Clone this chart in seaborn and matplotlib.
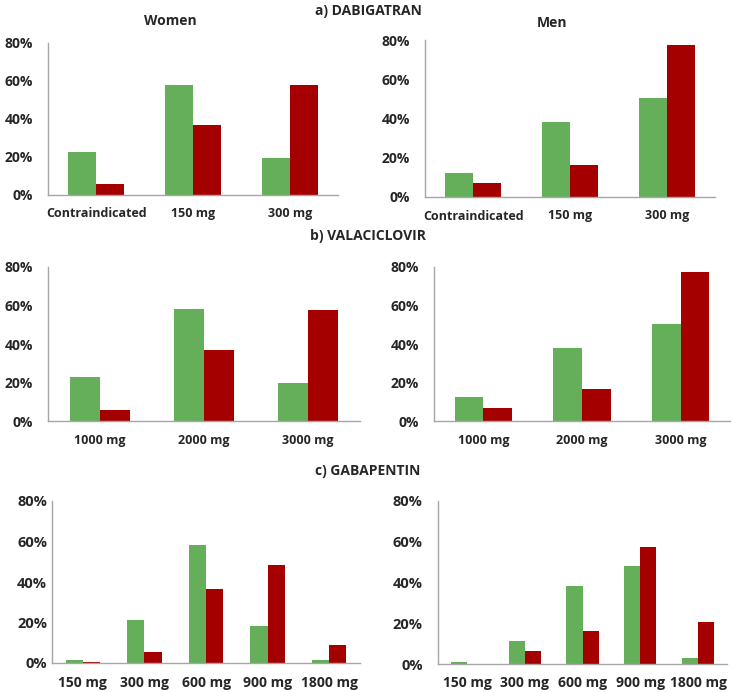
import seaborn as sns
import matplotlib.pyplot as plt
import pandas as pd
from matplotlib.ticker import FuncFormatter

# values (percent)
dabi_doses = ['Contraindicated', '150 mg', '300 mg']
dabi_women_green = [22.6, 58.0, 19.5]
dabi_women_red = [5.8, 36.7, 57.8]
dabi_men_green = [12.4, 38.0, 50.5]
dabi_men_red = [7.0, 16.5, 77.2]

vala_doses = ['1000 mg', '2000 mg', '3000 mg']
vala_women_green = [22.6, 58.0, 19.5]
vala_women_red = [5.8, 36.7, 57.6]
vala_men_green = [12.3, 38.0, 50.4]
vala_men_red = [7.0, 16.5, 77.3]

gaba_doses = ['150 mg', '300 mg', '600 mg', '900 mg', '1800 mg']
gaba_women_green = [1.3, 21.3, 58.1, 18.2, 1.3]
gaba_women_red = [0.3, 5.6, 36.7, 48.3, 9.0]
gaba_men_green = [0.8, 11.1, 38.1, 47.9, 2.8]
gaba_men_red = [0.0, 6.4, 16.3, 57.2, 20.4]

GREEN = '#65ae5a'
RED = '#a50000'
FONT = 'Open Sans'


def long_df(doses, green, red):
    rows = []
    for d, g, r in zip(doses, green, red):
        rows.append({'dose': d, 'series': 'A', 'value': g / 100})
        rows.append({'dose': d, 'series': 'B', 'value': r / 100})
    return pd.DataFrame(rows)


def draw(ax, doses, green, red, width, xsize=9, ysize=10, ypad=11):
    df = long_df(doses, green, red)
    sns.barplot(data=df, x='dose', y='value', hue='series', order=doses,
                palette=[GREEN, RED], width=width, gap=0, ax=ax,
                legend=False, saturation=1, errorbar=None, linewidth=0)
    ax.set_ylim(0, 0.8)
    ax.set_xlim(-0.5, len(doses) - 0.5)
    ax.set_yticks([0, 0.2, 0.4, 0.6, 0.8])
    ax.yaxis.set_major_formatter(FuncFormatter(lambda v, p: f'{v*100:.0f}%'))
    ax.set_xlabel('')
    ax.set_ylabel('')
    for s in ['top', 'right']:
        ax.spines[s].set_visible(False)
    for s in ['left', 'bottom']:
        ax.spines[s].set_color('#a6a6a6')
        ax.spines[s].set_linewidth(1)
    ax.tick_params(axis='x', length=0, pad=9)
    ax.tick_params(axis='y', length=0, pad=ypad)
    for lab in ax.get_xticklabels():
        lab.set_fontweight('bold')
        lab.set_fontsize(xsize)
        lab.set_fontfamily(FONT)
    for lab in ax.get_yticklabels():
        lab.set_fontweight('bold')
        lab.set_fontsize(ysize)
        lab.set_fontfamily(FONT)


W, H = 735, 692
fig = plt.figure(figsize=(W / 100, H / 100), dpi=100)
sns.set_style('white')


def box(x0, x1, ytop, ybot):
    return [x0 / W, 1 - ybot / H, (x1 - x0) / W, (ybot - ytop) / H]


ax1 = fig.add_axes(box(48, 338, 43, 195))
ax2 = fig.add_axes(box(425, 715, 40, 197))
ax3 = fig.add_axes(box(48, 360, 267, 421))
ax4 = fig.add_axes(box(434, 730, 267, 421))
ax5 = fig.add_axes(box(52, 360, 501, 663))
ax6 = fig.add_axes(box(438, 727, 501, 664))

draw(ax1, dabi_doses, dabi_women_green, dabi_women_red, 0.58)
draw(ax2, dabi_doses, dabi_men_green, dabi_men_red, 0.58)
draw(ax3, vala_doses, vala_women_green, vala_women_red, 0.58)
draw(ax4, vala_doses, vala_men_green, vala_men_red, 0.58)
draw(ax5, gaba_doses, gaba_women_green, gaba_women_red, 0.56, 10, 10.5, 3.5)
draw(ax6, gaba_doses, gaba_men_green, gaba_men_red, 0.56, 10, 10.5, 11)

tkw = dict(ha='center', va='center', fontweight='bold', fontsize=10, family=FONT)
fig.text(368 / W, 1 - 11 / H, 'a) DABIGATRAN', **tkw)
fig.text(170 / W, 1 - 21 / H, 'Women', **tkw)
fig.text(552 / W, 1 - 23 / H, 'Men', **tkw)
fig.text(368 / W, 1 - 236 / H, 'b) VALACICLOVIR', **tkw)
fig.text(368 / W, 1 - 471 / H, 'c) GABAPENTIN', **tkw)

fig.savefig('out.png', dpi=100)
